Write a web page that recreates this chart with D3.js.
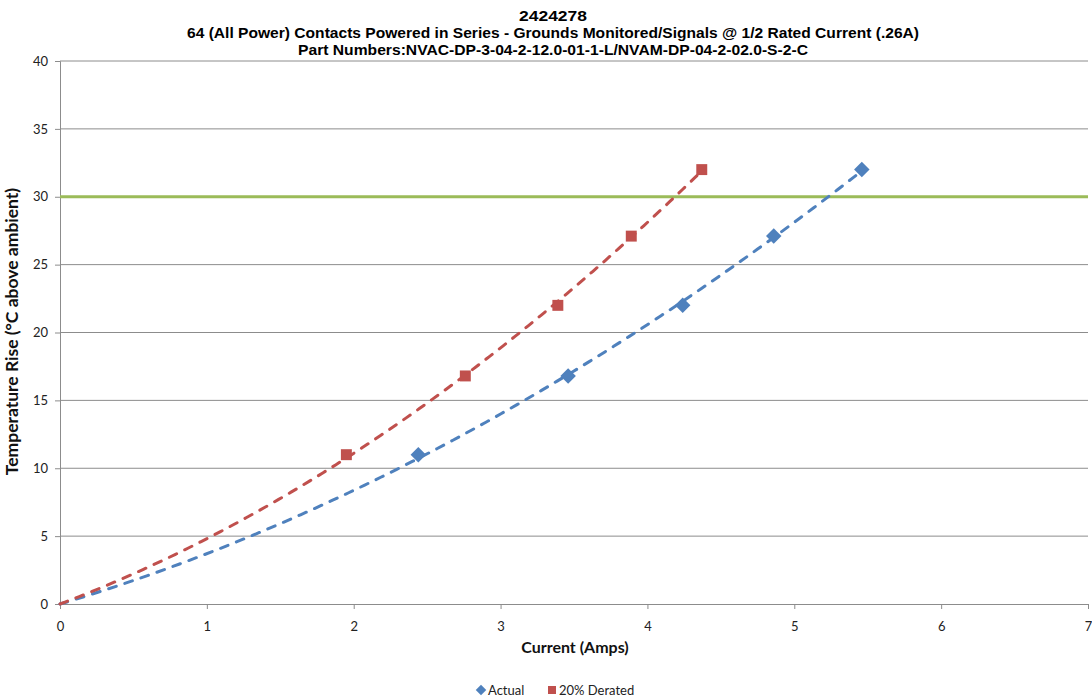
<!DOCTYPE html>
<html>
<head>
<meta charset="utf-8">
<script src="https://cdn.jsdelivr.net/npm/d3@7"></script>
<style>
  body { margin: 0; background: #fff; }
  .title { font-family: "Liberation Sans", Arial, sans-serif; font-weight: bold; font-size: 15.5px; fill: #000; }
  .tick text { font-family: Lato, "Open Sans", sans-serif; font-size: 13px; fill: #222; }
  .axis-title { font-family: Lato, "Open Sans", sans-serif; font-weight: bold; font-size: 16px; fill: #111; }
  .legend text { font-family: Lato, "Open Sans", sans-serif; font-size: 13px; fill: #222; }
</style>
</head>
<body>
<svg id="chart"></svg>
<script>
// data
const titleLines = [
    "2424278",
    "64 (All Power) Contacts Powered in Series - Grounds Monitored/Signals @ 1/2 Rated Current (.26A)",
    "Part Numbers:NVAC-DP-3-04-2-12.0-01-1-L/NVAM-DP-04-2-02.0-S-2-C"
];
const actualX = [2.44, 3.46, 4.24, 4.86, 5.46];
const actualY = [11.0, 16.8, 22.0, 27.1, 32.0];
const deratedX = [1.95, 2.76, 3.39, 3.89, 4.37];
const deratedY = [11.0, 16.8, 22.0, 27.1, 32.0];
const limitY = 30;
const xTicks = [0, 1, 2, 3, 4, 5, 6, 7];
const yTicks = [0, 5, 10, 15, 20, 25, 30, 35, 40];

const width = 1092, height = 700;
const margin = { top: 61, right: 4, bottom: 96, left: 60 };
const innerW = width - margin.left - margin.right;
const innerH = height - margin.top - margin.bottom;

const svg = d3.select('#chart').attr('width', width).attr('height', height);

svg.selectAll('.title')
    .data(titleLines)
    .join('text')
    .attr('class', 'title')
    .attr('x', 553)
    .attr('y', (d, i) => 21 + i * 17)
    .attr('text-anchor', 'middle')
    .attr('textLength', (d, i) => [68, 732, 510][i])
    .attr('lengthAdjust', 'spacingAndGlyphs')
    .text(d => d);

const chart = svg.append('g')
    .attr('transform', `translate(${margin.left},${margin.top})`);

const x = d3.scaleLinear().domain([0, 7]).range([0, innerW]);
const y = d3.scaleLinear().domain([0, 40]).range([innerH, 0]);

// gridlines
chart.append('g')
    .selectAll('line')
    .data(yTicks.filter(d => d > 0))
    .join('line')
    .attr('x1', 0).attr('x2', innerW)
    .attr('y1', d => y(d)).attr('y2', d => y(d))
    .attr('stroke', '#8c8c8c').attr('stroke-width', 1);

const yAxis = chart.append('g')
    .call(d3.axisLeft(y).tickValues(yTicks).tickFormat(d3.format('d')).tickSize(5).tickPadding(7));
const xAxis = chart.append('g')
    .attr('transform', `translate(0,${innerH})`)
    .call(d3.axisBottom(x).tickValues(xTicks).tickFormat(d3.format('d')).tickSize(5).tickPadding(6));
[xAxis, yAxis].forEach(g => {
    g.select('.domain').attr('stroke', '#8c8c8c');
    g.selectAll('.tick line').attr('stroke', '#8c8c8c');
});
xAxis.selectAll('.tick text').attr('dy', '1.2em');

// limit line
chart.append('line')
    .attr('x1', 0).attr('x2', innerW)
    .attr('y1', y(limitY)).attr('y2', y(limitY))
    .attr('stroke', '#9bbb59').attr('stroke-width', 3);

// polynomial (order 2) trendline through origin, least squares like Excel
function fitQuad(xs, ys) {
    let s4 = 0, s3 = 0, s2 = 0, sx2y = 0, sxy = 0;
    xs.forEach((xv, i) => {
        s4 += xv ** 4; s3 += xv ** 3; s2 += xv ** 2;
        sx2y += xv * xv * ys[i]; sxy += xv * ys[i];
    });
    const det = s4 * s2 - s3 * s3;
    const a = (sx2y * s2 - s3 * sxy) / det;
    const b = (s4 * sxy - s3 * sx2y) / det;
    return xv => a * xv * xv + b * xv;
}

// diamond = square turned 45deg
const diamond = {
    draw(ctx, size) {
        const r = Math.sqrt(size / 2);
        ctx.moveTo(0, -r); ctx.lineTo(r, 0); ctx.lineTo(0, r); ctx.lineTo(-r, 0); ctx.closePath();
    }
};

const series = [
    { name: 'Actual', xs: actualX, ys: actualY, color: '#4f81bd', symbol: diamond, size: 120, lsize: 55 },
    { name: '20% Derated', xs: deratedX, ys: deratedY, color: '#c0504d', symbol: d3.symbolSquare, size: 120, lsize: 64 }
];

const line = d3.line().x(d => x(d[0])).y(d => y(d[1]));

series.forEach(s => {
    const f = fitQuad(s.xs, s.ys);
    const xmax = d3.max(s.xs);
    const pts = d3.range(0, 101).map(i => [xmax * i / 100, f(xmax * i / 100)]);
    chart.append('path')
        .datum(pts)
        .attr('d', line)
        .attr('fill', 'none')
        .attr('stroke', s.color)
        .attr('stroke-width', 3)
        .attr('stroke-linecap', 'round')
        .attr('stroke-dasharray', '8,9');

    chart.append('g')
        .selectAll('path')
        .data(s.xs.map((xv, i) => [xv, s.ys[i]]))
        .join('path')
        .attr('transform', d => `translate(${x(d[0])},${y(d[1])})`)
        .attr('d', d3.symbol().type(s.symbol).size(s.size))
        .attr('fill', s.color);
});

chart.append('text')
    .attr('class', 'axis-title')
    .attr('x', innerW / 2 + 1)
    .attr('y', innerH + 49)
    .attr('text-anchor', 'middle')
    .text('Current (Amps)');

chart.append('text')
    .attr('class', 'axis-title')
    .attr('transform', 'rotate(-90)')
    .attr('x', -innerH / 2 + 1)
    .attr('y', -42)
    .attr('text-anchor', 'middle')
    .style('font-size', '17.5px')
    .text('Temperature Rise (°C above ambient)');

// legend
const legend = svg.append('g').attr('class', 'legend')
    .attr('transform', 'translate(477,690)');
const legendItems = legend.selectAll('g')
    .data(series)
    .join('g')
    .attr('transform', (d, i) => `translate(${i * 71},0)`);
legendItems.append('path')
    .attr('d', d => d3.symbol().type(d.symbol).size(d.lsize)())
    .attr('transform', 'translate(4,0)')
    .attr('fill', d => d.color);
legendItems.append('text')
    .attr('x', 11)
    .attr('dy', '0.35em')
    .text(d => d.name);
</script>
</body>
</html>
